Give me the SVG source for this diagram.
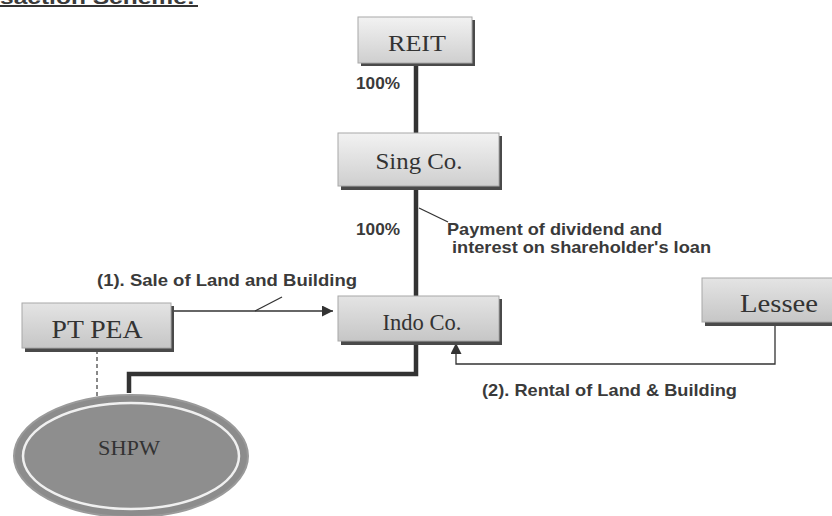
<svg xmlns="http://www.w3.org/2000/svg" width="832" height="516" viewBox="0 0 832 516">
<defs>
<linearGradient id="g" x1="0" y1="0" x2="0" y2="1">
<stop offset="0" stop-color="#f2f2f2"/>
<stop offset="1" stop-color="#cfcfcf"/>
</linearGradient>
<linearGradient id="g2" x1="0" y1="0" x2="0" y2="1">
<stop offset="0" stop-color="#e4e4e4"/>
<stop offset="1" stop-color="#c6c6c6"/>
</linearGradient>
<marker id="ah" viewBox="0 0 10 10" refX="10" refY="5" markerWidth="11" markerHeight="11" markerUnits="userSpaceOnUse" orient="auto">
<path d="M0,0 L10,5 L0,10 z" fill="#333"/>
</marker>
</defs>
<style>
.box{stroke:#a8a8a8;stroke-width:1}
.shadow{fill:#4a4a4a}
.nl{font-family:"Liberation Serif",serif;fill:#333;text-anchor:middle}
.lab{font-family:"Liberation Sans",Arial,sans-serif;font-weight:bold;font-size:16.5px;fill:#3a3a3a}
.thick{stroke:#333;stroke-width:4.5;fill:none}
.thin{stroke:#333;stroke-width:1.3;fill:none}
</style>
<rect width="832" height="516" fill="#ffffff"/>
<g id="title">
<text x="0" y="4" class="lab" style="font-size:19px" textLength="195" lengthAdjust="spacingAndGlyphs">saction Scheme:</text>
<line x1="0" y1="6" x2="198" y2="6" stroke="#333" stroke-width="2"/>
</g>
<g id="connectors">
<line class="thick" x1="416" y1="63" x2="416" y2="134"/>
<line class="thick" x1="416" y1="188" x2="416" y2="297"/>
<polyline class="thick" points="416,343 416,374 129,374 129,393"/>
<line x1="97" y1="350" x2="97" y2="402" stroke="#888" stroke-width="2" stroke-dasharray="4,3"/>
<line class="thin" x1="173" y1="311" x2="333" y2="311" marker-end="url(#ah)"/>
<line class="thin" x1="255" y1="311" x2="282" y2="297"/>
<polyline class="thin" points="775,324 775,364 456,364 456,343" marker-end="url(#ah)"/>
<line class="thin" x1="419" y1="208" x2="448" y2="222"/>
<text class="lab" x="356" y="89" textLength="44" lengthAdjust="spacingAndGlyphs">100%</text>
<text class="lab" x="356" y="235" textLength="44" lengthAdjust="spacingAndGlyphs">100%</text>
<text class="lab" x="447" y="235" textLength="215" lengthAdjust="spacingAndGlyphs">Payment of dividend and</text>
<text class="lab" x="452" y="253" textLength="259" lengthAdjust="spacingAndGlyphs">interest on shareholder's loan</text>
<text class="lab" x="97" y="286" textLength="260" lengthAdjust="spacingAndGlyphs">(1).  Sale of Land and Building</text>
<text class="lab" x="482" y="396" textLength="255" lengthAdjust="spacingAndGlyphs">(2). Rental of Land &amp; Building</text>
</g>
<g id="reit">
<rect class="shadow" x="361" y="20" width="114" height="46"/>
<rect class="box" x="358" y="17" width="114" height="46" fill="url(#g)"/>
<text class="nl" x="417" y="51" font-size="24" textLength="58" lengthAdjust="spacingAndGlyphs">REIT</text>
</g>
<g id="singco">
<rect class="shadow" x="341" y="136" width="161" height="54"/>
<rect class="box" x="338" y="133" width="161" height="53" fill="url(#g)"/>
<text class="nl" x="419" y="169" font-size="24" textLength="87" lengthAdjust="spacingAndGlyphs">Sing Co.</text>
</g>
<g id="indoco">
<rect class="shadow" x="341" y="299" width="161" height="46"/>
<rect class="box" x="338" y="296" width="161" height="45" fill="url(#g2)"/>
<text class="nl" x="422" y="330" font-size="24" textLength="79" lengthAdjust="spacingAndGlyphs">Indo Co.</text>
</g>
<g id="ptpea">
<rect class="shadow" x="25" y="306" width="149" height="46"/>
<rect class="box" x="22" y="303" width="149" height="45" fill="url(#g2)"/>
<text class="nl" x="97" y="338" font-size="25" textLength="91" lengthAdjust="spacingAndGlyphs">PT PEA</text>
</g>
<g id="lessee">
<rect class="shadow" x="705" y="281" width="130" height="45"/>
<rect class="box" x="702" y="278" width="132" height="44" fill="url(#g2)"/>
<text class="nl" x="779" y="312" font-size="25" textLength="78" lengthAdjust="spacingAndGlyphs">Lessee</text>
</g>
<g id="shpw">
<ellipse cx="131" cy="456" rx="117" ry="61" fill="#8c8c8c" stroke="#9a9a9a" stroke-width="2"/>
<ellipse cx="131" cy="456" rx="108" ry="53" fill="#8e8e8e" stroke="#f0f0f0" stroke-width="2.5"/>
<text class="nl" x="129" y="455" font-size="20" textLength="62" lengthAdjust="spacingAndGlyphs">SHPW</text>
</g>
</svg>
